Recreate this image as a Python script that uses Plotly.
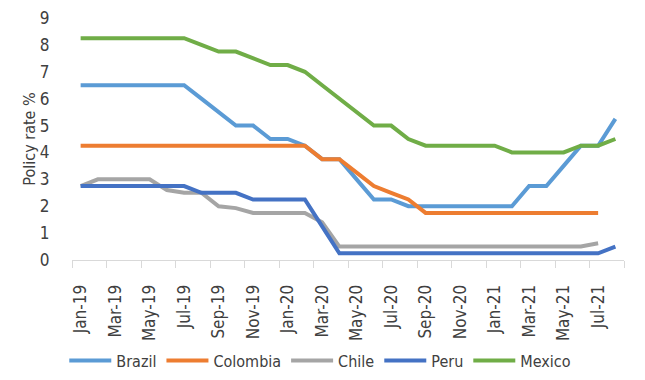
import plotly.graph_objects as go

months = ["Jan-19","Feb-19","Mar-19","Apr-19","May-19","Jun-19","Jul-19","Aug-19","Sep-19","Oct-19","Nov-19","Dec-19",
          "Jan-20","Feb-20","Mar-20","Apr-20","May-20","Jun-20","Jul-20","Aug-20","Sep-20","Oct-20","Nov-20","Dec-20",
          "Jan-21","Feb-21","Mar-21","Apr-21","May-21","Jun-21","Jul-21","Aug-21"]

brazil = [6.5,6.5,6.5,6.5,6.5,6.5,6.5,6.0,5.5,5.0,5.0,4.5,
          4.5,4.25,3.75,3.75,3.0,2.25,2.25,2.0,2.0,2.0,2.0,2.0,
          2.0,2.0,2.75,2.75,3.5,4.25,4.25,5.25]
colombia = [4.25,4.25,4.25,4.25,4.25,4.25,4.25,4.25,4.25,4.25,4.25,4.25,
            4.25,4.25,3.75,3.75,3.25,2.75,2.5,2.25,1.75,1.75,1.75,1.75,
            1.75,1.75,1.75,1.75,1.75,1.75,1.75,None]
chile = [2.75,3.0,3.0,3.0,3.0,2.6,2.5,2.5,2.0,1.93,1.75,1.75,
         1.75,1.75,1.4,0.5,0.5,0.5,0.5,0.5,0.5,0.5,0.5,0.5,
         0.5,0.5,0.5,0.5,0.5,0.5,0.62,None]
peru = [2.75,2.75,2.75,2.75,2.75,2.75,2.75,2.5,2.5,2.5,2.25,2.25,
        2.25,2.25,1.25,0.25,0.25,0.25,0.25,0.25,0.25,0.25,0.25,0.25,
        0.25,0.25,0.25,0.25,0.25,0.25,0.25,0.5]
mexico = [8.25,8.25,8.25,8.25,8.25,8.25,8.25,8.0,7.75,7.75,7.5,7.25,
          7.25,7.0,6.5,6.0,5.5,5.0,5.0,4.5,4.25,4.25,4.25,4.25,
          4.25,4.0,4.0,4.0,4.0,4.25,4.25,4.5]

series = [("Brazil", brazil, "#5B9BD5"),
          ("Colombia", colombia, "#ED7D31"),
          ("Chile", chile, "#A5A5A5"),
          ("Peru", peru, "#4472C4"),
          ("Mexico", mexico, "#70AD47")]

xidx = list(range(len(months)))
fig = go.Figure()
for name, vals, col in series:
    fig.add_trace(go.Scatter(x=xidx, y=vals, name=name, mode="lines",
                             line=dict(color=col, width=4), connectgaps=False))

font_fam = "DejaVu Sans Condensed, Roboto, sans-serif"
txt = "#404040"
# page body has an 8px margin, so offsets below are compensated
fig.update_layout(
    width=645, height=380,
    margin=dict(l=64, r=29, t=10, b=125),
    paper_bgcolor="white", plot_bgcolor="white",
    font=dict(family=font_fam, size=16, color=txt),
    showlegend=True,
    legend=dict(orientation="h", x=-0.014, xanchor="left", y=-0.416, yanchor="middle",
                font=dict(size=16, color=txt), itemwidth=42, tracegroupgap=0),
    xaxis=dict(range=[-0.5, 31.5], tickmode="array", automargin=False,
               tickvals=xidx[::2], ticktext=months[::2], tickangle=-90,
               ticks="outside", ticklen=17, tickcolor="rgba(0,0,0,0)",
               showgrid=False, zeroline=False, ticklabeloverflow="allow",
               showline=True, linecolor="#D9D9D9", linewidth=1,
               tickfont=dict(size=17, color=txt),
               minor=dict(tickmode="array", tickvals=[i - 0.5 for i in range(0, 33, 2)],
                          ticks="outside", ticklen=7, tickcolor="#D9D9D9", tickwidth=1,
                          showgrid=False)),
    yaxis=dict(range=[0, 9], dtick=1, showgrid=False, zeroline=False, automargin=False,
               showline=False, ticks="outside", ticklen=18, tickcolor="rgba(0,0,0,0)",
               ticklabeloverflow="allow",
               tickfont=dict(size=17, color=txt),
               title=dict(text="Policy rate %", font=dict(size=16, color=txt), standoff=0)),
)
fig.write_html("out.html")
